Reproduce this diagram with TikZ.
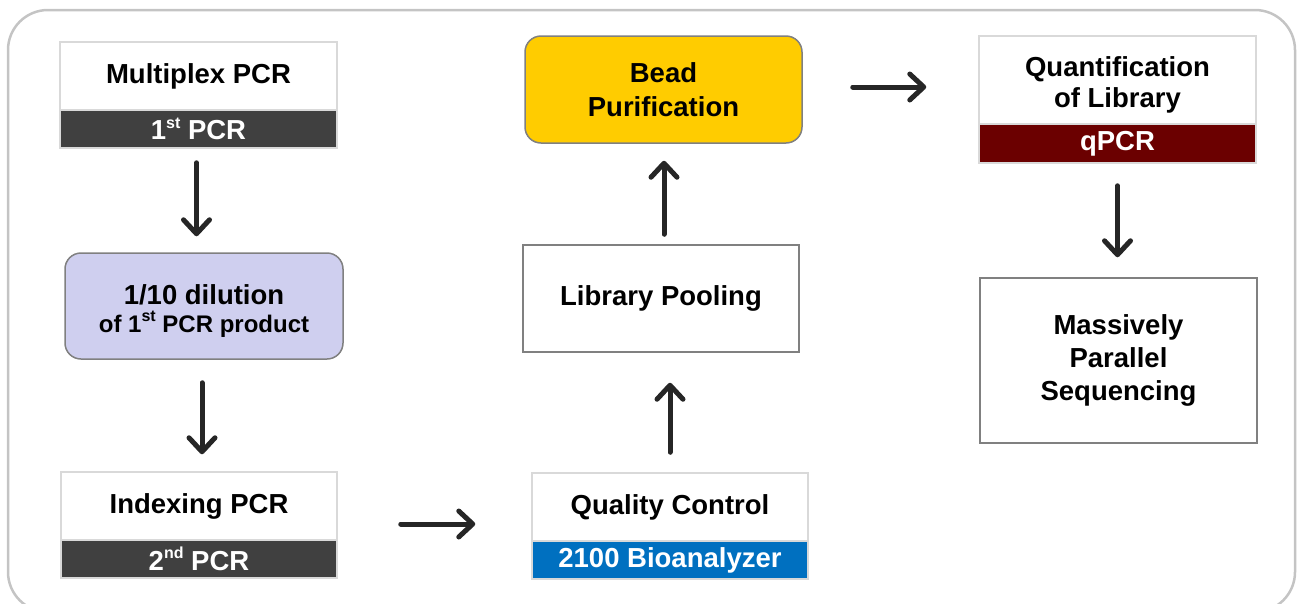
\documentclass[tikz,border=0pt]{standalone}
\usepackage{fontspec}
\setmainfont{Liberation Sans}
\usetikzlibrary{arrows.meta}
\definecolor{bandgray}{HTML}{404040}
\definecolor{lightborder}{HTML}{D9D9D9}
\definecolor{midborder}{HTML}{808080}
\definecolor{lavender}{HTML}{CFCFEF}
\definecolor{beadyellow}{HTML}{FFCC00}
\definecolor{bioblue}{HTML}{0070C0}
\definecolor{maroon}{HTML}{6B0000}
\definecolor{arrowc}{HTML}{262626}
\definecolor{framec}{HTML}{C4C4C4}
\newcommand{\supx}[1]{\raisebox{0.42em}{\fontsize{16}{16}\selectfont #1}}
\tikzset{
  base/.style={inner sep=0pt, align=center, font=\fontsize{27.5}{33}\selectfont\bfseries},
  topbox/.style={base, draw=lightborder, line width=1.5pt, fill=white, text=black},
  bandbox/.style={base, draw=lightborder, line width=1.5pt, text=white},
  plainbox/.style={base, draw=midborder, line width=1.5pt, fill=white, text=black},
  roundbox/.style={base, draw=midborder, line width=1.5pt, rounded corners=16pt, text=black},
  flowarrow/.style={line width=5pt, color=arrowc, line cap=round,
    -{Straight Barb[length=14pt, width=26pt, round]}}
}
\begin{document}
\begin{tikzpicture}[x=1pt, y=-1pt]
\useasboundingbox (0,0) rectangle (1302,603);
\draw[framec, line width=2.5pt, rounded corners=40pt] (8,10) rectangle (1295,612);

% Column 1
\node[topbox, minimum width=277pt, minimum height=68pt] (b1top) at (198.5,76) {Multiplex PCR};
\node[bandbox, fill=bandgray, minimum width=277pt, minimum height=38pt] (b1band) at (198.5,129) {1\supx{st} PCR};
\node[roundbox, fill=lavender, minimum width=278pt, minimum height=106pt] (dil) at (204,306)
  {\rule{0pt}{29pt}1/10 dilution\\[-5pt]{\fontsize{24}{28}\selectfont of 1\supx{st} PCR product}};
\node[topbox, minimum width=276pt, minimum height=68pt] (b2top) at (199,506) {Indexing PCR};
\node[bandbox, fill=bandgray, minimum width=276pt, minimum height=38pt] (b2band) at (199,559) {2\supx{nd} PCR};

% Column 2
\node[topbox, minimum width=276pt, minimum height=68pt] (qctop) at (670,507) {Quality Control};
\node[bandbox, fill=bioblue, minimum width=276pt, minimum height=38pt] (qcband) at (670,560) {2100 Bioanalyzer};
\node[plainbox, minimum width=276pt, minimum height=107pt] (pool) at (661,298.5) {Library Pooling};
\node[roundbox, fill=beadyellow, minimum width=277pt, minimum height=107pt] (bead) at (663.5,89.5) {Bead\\[1pt]Purification};

% Column 3
\node[topbox, minimum width=277pt, minimum height=88pt] (qtop) at (1117.5,80) {\rule{0pt}{29pt}Quantification\\[-2pt]of Library};
\node[bandbox, fill=maroon, minimum width=277pt, minimum height=39pt] (qband) at (1117.5,143.5) {qPCR};
\node[plainbox, minimum width=277pt, minimum height=165pt] (mps) at (1118.5,360.5) {Massively\\Parallel\\Sequencing};

% Arrows
\draw[flowarrow, shorten <=14pt, shorten >=16pt] ([xshift=-2pt]b1band.south) -- ([xshift=-2pt]b1band.south |- dil.north);
\draw[flowarrow, shorten <=23pt, shorten >=17pt] ([xshift=-2pt]dil.south) -- ([xshift=-2pt]dil.south |- b2top.north);
\draw[flowarrow, shorten <=63pt, shorten >=56pt] (b2top.east |- 0,524) -- (qctop.west |- 0,524);
\draw[flowarrow, shorten <=20pt, shorten >=30pt] (qctop.north) -- (qctop.north |- pool.south);
\draw[flowarrow, shorten <=10pt, shorten >=17pt] ([xshift=3pt]pool.north) -- ([xshift=3pt]pool.north |- bead.south);
\draw[flowarrow, shorten <=50pt, shorten >=52pt] (bead.east |- 0,87) -- (qtop.west |- 0,87);
\draw[flowarrow, shorten <=22pt, shorten >=20pt] (qband.south) -- (qband.south |- mps.north);
\end{tikzpicture}
\end{document}
